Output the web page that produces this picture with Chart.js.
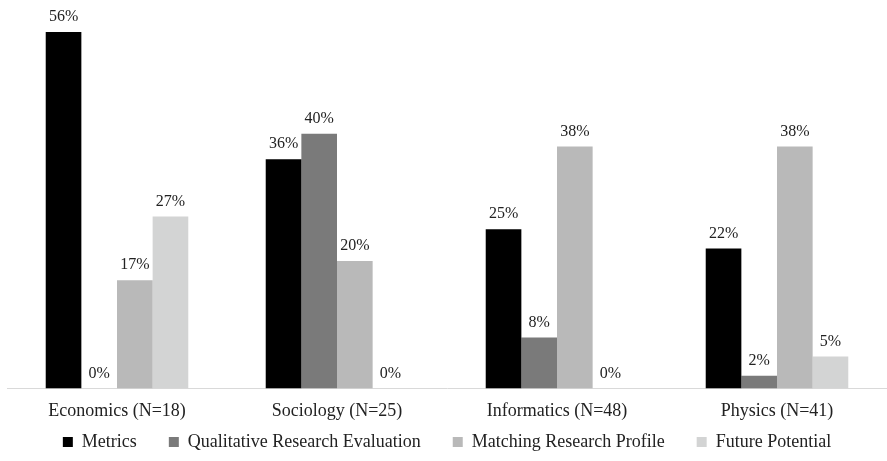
<!DOCTYPE html>
<html>
<head>
<meta charset="utf-8">
<script src="https://cdn.jsdelivr.net/npm/chart.js@4"></script>
<style>
  html, body { margin: 0; padding: 0; background: #fff; }
  #wrap { width: 887px; height: 461px; }
</style>
</head>
<body>
<div id="wrap"><canvas id="chart"></canvas></div>
<script>
const categories = ['Economics (N=18)', 'Sociology (N=25)', 'Informatics (N=48)', 'Physics (N=41)'];
const metrics = [56, 36, 25, 22];
const qualitative = [0, 40, 8, 2];
const matching = [17, 20, 38, 38];
const future = [27, 0, 0, 5];

const serif = '"Liberation Serif", "Times New Roman", serif';

// draws the % labels above each bar
const barLabels = {
    id: 'barLabels',
    afterDatasetsDraw(chart) {
        const ctx = chart.ctx;
        ctx.save();
        ctx.font = '16px ' + serif;
        ctx.fillStyle = '#222';
        ctx.textAlign = 'center';
        ctx.textBaseline = 'middle';
        chart.data.datasets.forEach((ds, i) => {
            const meta = chart.getDatasetMeta(i);
            meta.data.forEach((bar, j) => {
                ctx.fillText(ds.data[j] + '%', bar.x, bar.y - 15);
            });
        });
        ctx.restore();
    }
};

// wide gaps between legend items, but a short legend box, pulled up a bit
const legendFix = {
    id: 'legendFix',
    beforeInit(chart) {
        const fit = chart.legend.fit;
        chart.legend.fit = function() {
            fit.bind(chart.legend)();
            this.height = 35;
        };
    },
    afterLayout(chart) {
        chart.legend.top -= 25;
    }
};

const config = {
    type: 'bar',
    data: {
        labels: categories,
        datasets: [
            { label: 'Metrics', data: metrics, backgroundColor: '#000000' },
            { label: 'Qualitative Research Evaluation', data: qualitative, backgroundColor: '#7a7a7a' },
            { label: 'Matching Research Profile', data: matching, backgroundColor: '#b9b9b9' },
            { label: 'Future Potential', data: future, backgroundColor: '#d3d4d4' }
        ]
    },
    options: {
        responsive: true,
        maintainAspectRatio: false,
        animation: false,
        datasets: {
            bar: { categoryPercentage: 0.648, barPercentage: 1.0 }
        },
        layout: { padding: { left: 7, right: 0, top: 4, bottom: 0 } },
        scales: {
            x: {
                grid: { display: false },
                border: { color: '#d9d9d9', width: 1 },
                ticks: { font: { family: serif, size: 18 }, color: '#222', padding: 4 }
            },
            y: {
                display: false,
                min: 0,
                max: 60.4
            }
        },
        plugins: {
            tooltip: { enabled: false },
            legend: {
                position: 'bottom',
                labels: {
                    boxWidth: 10,
                    boxHeight: 10,
                    padding: 32,
                    color: '#222',
                    font: { family: serif, size: 18 }
                }
            }
        }
    },
    plugins: [barLabels, legendFix]
};

new Chart(document.getElementById('chart'), config);
</script>
</body>
</html>
